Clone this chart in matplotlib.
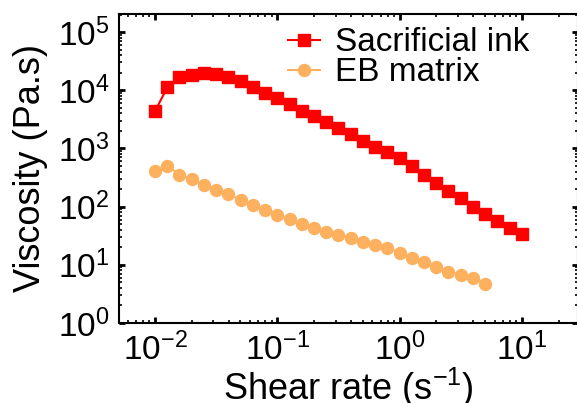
import math
import matplotlib
matplotlib.use("Agg")
import matplotlib.pyplot as plt
from matplotlib.ticker import LogLocator, FuncFormatter, NullFormatter

plt.rcParams['font.family'] = ['Liberation Sans', 'DejaVu Sans']
plt.rcParams['mathtext.fontset'] = 'custom'
plt.rcParams['mathtext.rm'] = 'Liberation Sans'
plt.rcParams['mathtext.it'] = 'Liberation Sans'

# shear rate (1/s)
shear_ink = [0.01, 0.0126, 0.0158, 0.02, 0.0251, 0.0316, 0.0398, 0.0501, 0.0631, 0.0794,
             0.1, 0.126, 0.158, 0.2, 0.251, 0.316, 0.398, 0.501, 0.631, 0.794,
             1, 1.26, 1.58, 2, 2.51, 3.16, 3.98, 5.01, 6.31, 7.94, 10]
shear_eb = shear_ink[:28]

# viscosity (Pa.s)
visc_ink = [4370, 11220, 16600, 18620, 19500, 19050, 16980, 14130, 11480, 9120,
            7240, 5750, 4470, 3550, 2820, 2240, 1740, 1350, 1050, 851,
            676, 490, 355, 257, 186, 138, 100, 75.9, 56.2, 42.7, 33.9]
visc_eb = [407, 501, 355, 295, 234, 191, 162, 132, 105, 89.1,
           72.4, 60.3, 50.1, 42.7, 37.2, 33.1, 28.8, 25.1, 21.9, 19.5,
           16.2, 13.2, 11.2, 9.33, 7.59, 6.76, 6.03, 4.68]

labels = ['Sacrificial ink', 'EB matrix']
colors = ['#FF0000', '#FDB05E']

fig = plt.figure(figsize=(5.77, 4.03), dpi=100)
ax = fig.add_axes([0.2062, 0.1985, 0.7955, 0.7668])

ax.plot(shear_ink, visc_ink, '-s', color=colors[0], ms=9.2, lw=1.5, label=labels[0])
ax.plot(shear_eb, visc_eb, '-o', color=colors[1], ms=8.6, lw=1.5, label=labels[1])

ax.set_xscale('log')
ax.set_yscale('log')
ax.set_xlim(10**-2.295, 10**1.46)
ax.set_ylim(1, 10**5.31)

fmt = FuncFormatter(lambda v, p: r'$\mathregular{10^{%d}}$' % round(math.log10(v)))
ax.xaxis.set_major_locator(LogLocator(base=10, numticks=10))
ax.yaxis.set_major_locator(LogLocator(base=10, numticks=10))
ax.xaxis.set_minor_locator(LogLocator(base=10, subs=range(2, 10), numticks=20))
ax.yaxis.set_minor_locator(LogLocator(base=10, subs=range(2, 10), numticks=20))
ax.xaxis.set_major_formatter(fmt)
ax.yaxis.set_major_formatter(fmt)
ax.xaxis.set_minor_formatter(NullFormatter())
ax.yaxis.set_minor_formatter(NullFormatter())

ax.tick_params(which='both', direction='in', top=True, right=True, labelsize=24)
ax.tick_params(which='major', length=4, width=2, pad=7)
ax.tick_params(which='minor', length=2.5, width=1.2)
for s in ax.spines.values():
    s.set_linewidth(1.5)

ax.set_xlabel('Shear rate (s$^{-1}$)', fontsize=26, labelpad=-1)
ax.set_ylabel('Viscosity (Pa.s)', fontsize=26, labelpad=7)

ax.legend(loc='upper left', bbox_to_anchor=(0.499, 0.932), bbox_transform=fig.transFigure,
          frameon=False, fontsize=24, borderpad=0, borderaxespad=0, handlelength=0.95,
          handletextpad=0.45, labelspacing=-0.03)

fig.savefig('out.png', dpi=100)
